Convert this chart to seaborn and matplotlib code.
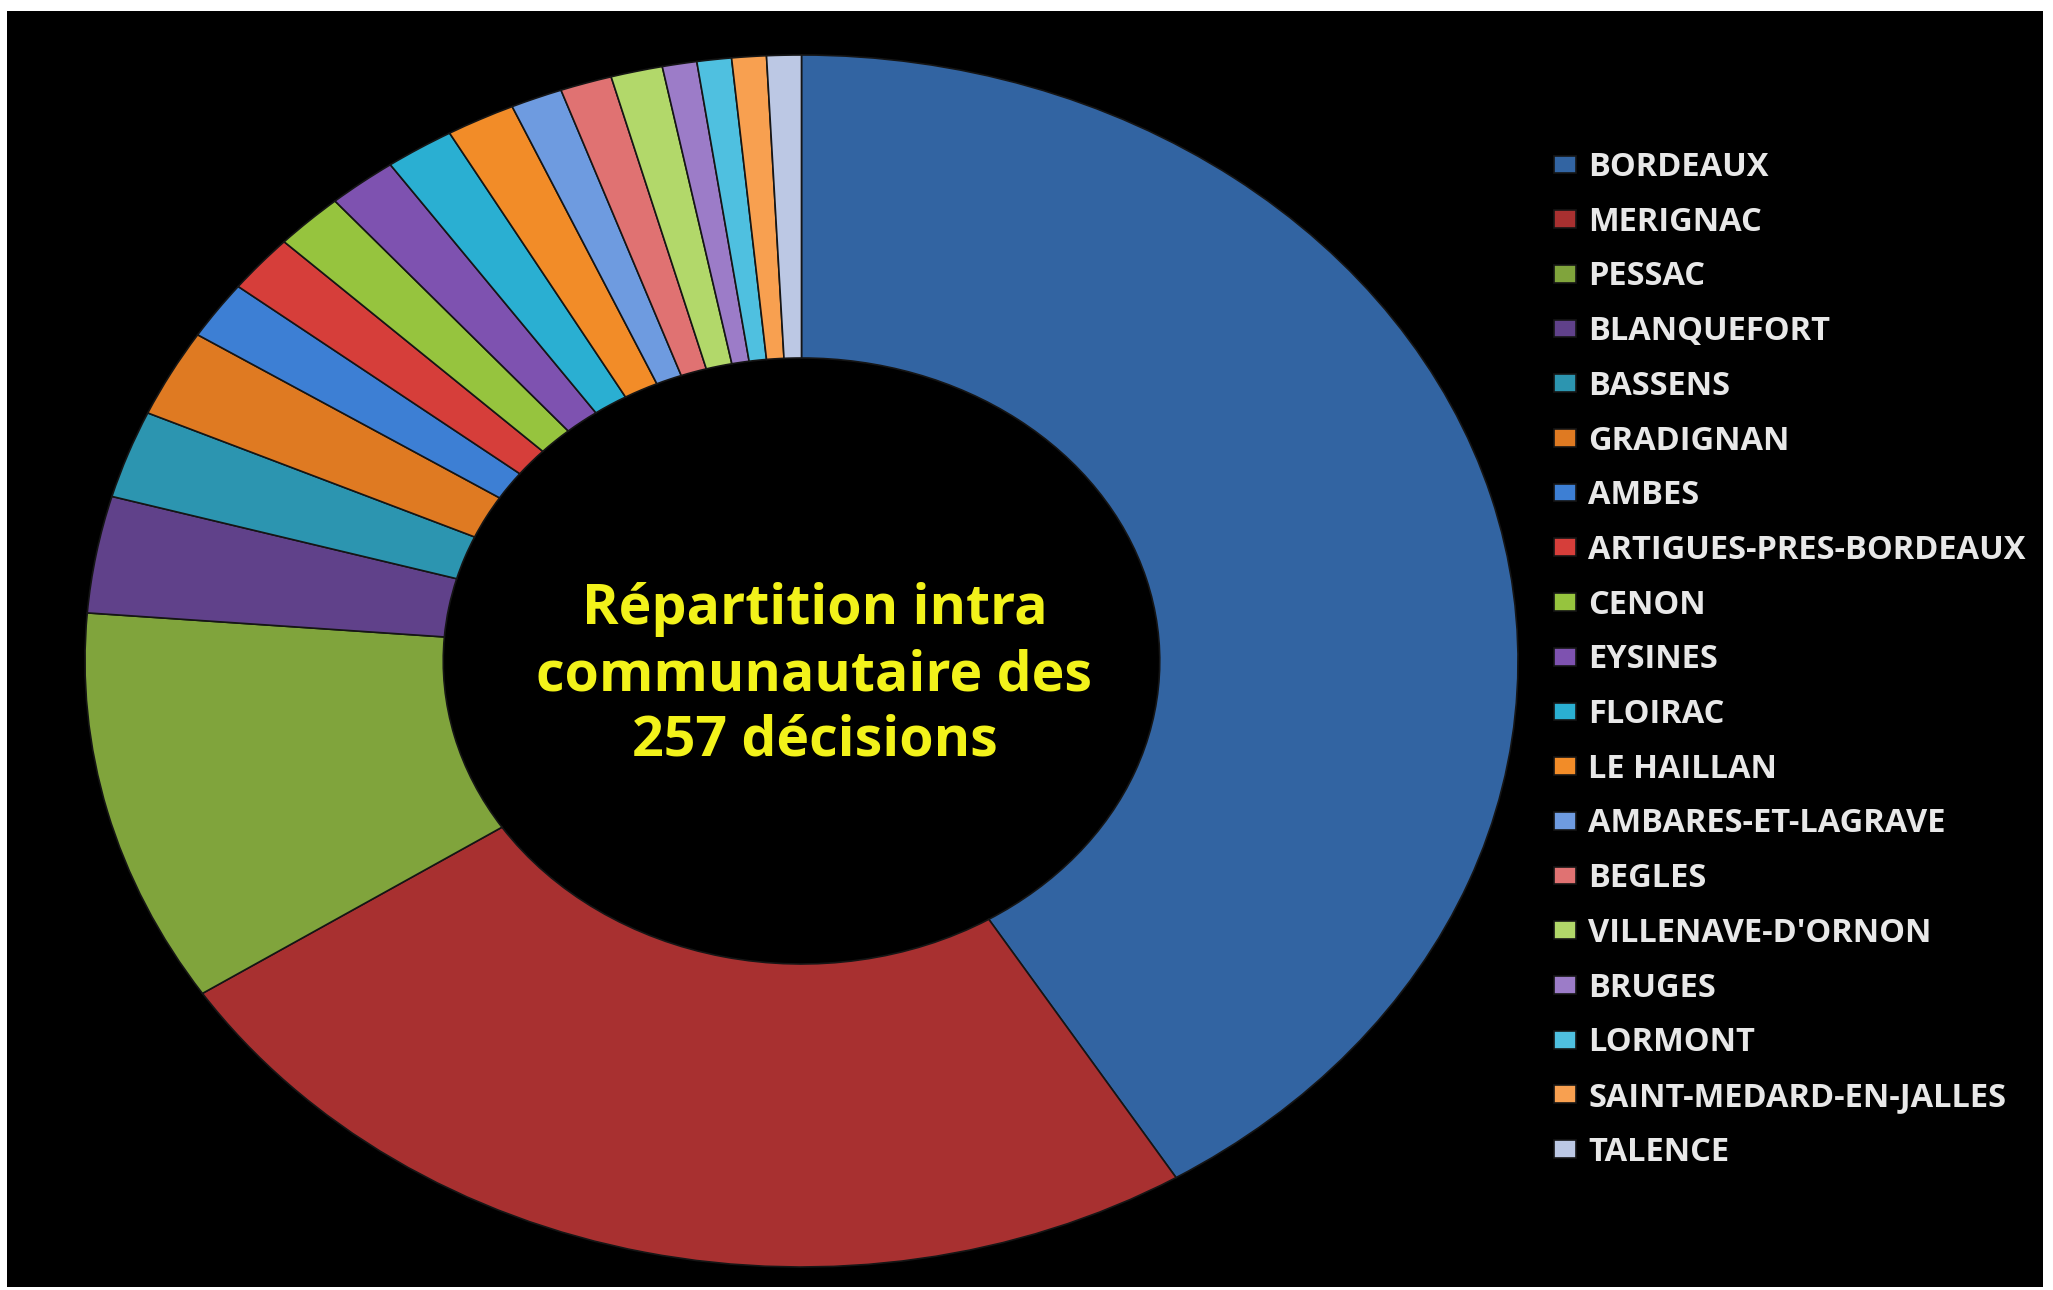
import numpy as np
import pandas as pd
import seaborn as sns
import matplotlib.pyplot as plt
from matplotlib.patches import Rectangle

communes = ['BORDEAUX', 'MERIGNAC', 'PESSAC', 'BLANQUEFORT', 'BASSENS', 'GRADIGNAN',
            'AMBES', 'ARTIGUES-PRES-BORDEAUX', 'CENON', 'EYSINES', 'FLOIRAC', 'LE HAILLAN',
            'AMBARES-ET-LAGRAVE', 'BEGLES', "VILLENAVE-D'ORNON", 'BRUGES', 'LORMONT',
            'SAINT-MEDARD-EN-JALLES', 'TALENCE']
decisions = [106, 63, 27, 8, 6, 6,
             4, 4, 4, 4, 4, 4,
             3, 3, 3, 2, 2, 2, 2]
slice_colors = ['#3264a2', '#a83030', '#80a43c', '#60418a', '#2c95b0', '#df7a22',
                '#3d7fd4', '#d63e3a', '#96c43e', '#7e52b0', '#2aafd2', '#f28c28',
                '#6e9be0', '#e07272', '#b2d86a', '#9c7cc8', '#4fc0e0', '#f8a050',
                '#bcc8e4']
center_title = 'Répartition intra\ncommunautaire des\n257 décisions'

df = pd.DataFrame({'commune': communes, 'n': decisions})

sns.set_theme(style='dark')
plt.rcParams['font.family'] = ['Open Sans', 'DejaVu Sans']

W, H = 2053, 1290
fig = plt.figure(figsize=(W / 100, H / 100), dpi=100, facecolor='white')
# black slide background with thin white border
fig.patches.append(Rectangle((7 / W, 3 / H), (2043 - 7) / W, (1283 - 7) / H,
                             transform=fig.transFigure, facecolor='black',
                             edgecolor='none', zorder=-5))

# axes box = bounding box of the (elliptic) outer ring
x0, x1, y0, y1 = 85, 1518, 55, 1267
ax = fig.add_axes([x0 / W, 1 - y1 / H, (x1 - x0) / W, (y1 - y0) / H], zorder=2)
ax.set_facecolor('none')

pal = sns.color_palette(slice_colors)
wedges, _ = ax.pie(df['n'], colors=pal, startangle=90, counterclock=False,
                   radius=1.0,
                   wedgeprops=dict(width=0.5, edgecolor='#151515', linewidth=1.2))
ax.set_aspect('auto')
ax.set_xlim(-1, 1)
ax.set_ylim(-1, 1)
ax.axis('off')

ax.text(0.018, -0.024, center_title, ha='center', va='center', color='#f2f21a',
        fontsize=40, fontweight='bold', linespacing=1.26)

leg = fig.legend(wedges, df['commune'], loc='upper left',
                 bbox_to_anchor=(1554 / W, 1 - 151 / H), frameon=False,
                 borderpad=0, borderaxespad=0,
                 fontsize=23.5, labelcolor='#e8e8e8', handlelength=0.67,
                 handleheight=0.46, handletextpad=0.38, labelspacing=0.665)
for t in leg.get_texts():
    t.set_fontweight('bold')

fig.savefig('out.png', dpi=100, facecolor='white')
